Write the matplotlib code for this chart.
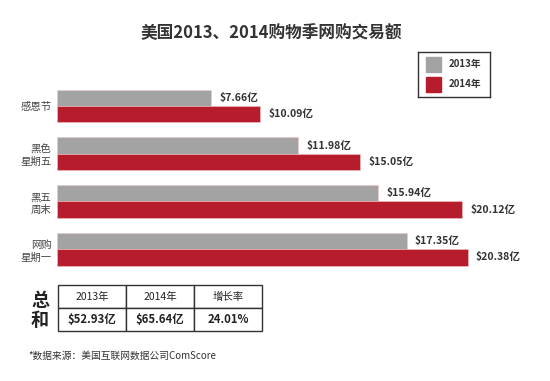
import matplotlib.pyplot as plt

plt.rcParams['font.family'] = ['Noto Sans CJK SC', 'DejaVu Sans']

# data
categories = ["感恩节", "黑色\n星期五", "黑五\n周末", "网购\n星期一"]
v2013 = [7.66, 11.98, 15.94, 17.35]
v2014 = [10.09, 15.05, 20.12, 20.38]
years = ["2013年", "2014年"]
table_head = ["2013年", "2014年", "增长率"]
table_vals = ["$52.93亿", "$65.64亿", "24.01%"]

gray = "#a3a3a3"
red = "#b71c2c"
txt = "#333333"

W, H = 550, 381
fig = plt.figure(figsize=(W / 100, H / 100), dpi=100)

# title
fig.text(271 / W, 1 - 33 / H, "美国2013、2014购物季网购交易额", ha="center", va="center",
         fontsize=12, fontweight="bold", color="#333333")

# bar axes
ax = fig.add_axes([57 / W, 1 - 280 / H, 493 / W, 200 / H])
ys = list(range(len(categories)))
h = 0.345
ax.barh([y - h / 2 for y in ys], v2013, height=h, color=gray, edgecolor="#f0c8c8", linewidth=0.4)
ax.barh([y + h / 2 for y in ys], v2014, height=h, color=red, edgecolor="#f0c8c8", linewidth=0.4)
for y, a, b in zip(ys, v2013, v2014):
    ax.text(a + 0.4, y - h / 2, "$%.2f亿" % a, va="center", ha="left", fontsize=7.6, fontweight="bold", color=txt)
    ax.text(b + 0.4, y + h / 2, "$%.2f亿" % b, va="center", ha="left", fontsize=7.6, fontweight="bold", color=txt)
ax.set_xlim(0, 493 / 20.15)
ax.set_ylim(3.645, -0.545)
ax.set_yticks(ys)
ax.set_yticklabels(categories, fontsize=7.5, color="#444444", linespacing=1.3)
ax.tick_params(axis="y", length=0, pad=4)
ax.set_xticks([])
for s in ax.spines.values():
    s.set_visible(False)

# legend
lax = fig.add_axes([418 / W, 1 - 97 / H, 72 / W, 45 / H])
lax.set_xlim(0, 72)
lax.set_ylim(45, 0)
lax.set_xticks([])
lax.set_yticks([])
for s in lax.spines.values():
    s.set_linewidth(1)
    s.set_color("#333333")
for i, (lab, c) in enumerate(zip(years, [gray, red])):
    lax.add_patch(plt.Rectangle((8, 5 + i * 20), 15, 15, color=c))
    lax.text(47, 12.5 + i * 20, lab, ha="center", va="center", fontsize=7, fontweight="bold", color=txt)

# totals table
fig.text(40 / W, 1 - 300 / H, "总", ha="center", va="center", fontsize=13, fontweight="bold", color="#222222")
fig.text(40 / W, 1 - 321 / H, "和", ha="center", va="center", fontsize=13, fontweight="bold", color="#222222")
tax = fig.add_axes([58 / W, 1 - 331 / H, 204 / W, 46 / H])
tab = tax.table(cellText=[table_head, table_vals], cellLoc="center", bbox=[0, 0, 1, 1])
tab.auto_set_font_size(False)
for (r, c), cell in tab.get_celld().items():
    cell.set_linewidth(1)
    cell.set_edgecolor("#333333")
    cell.get_text().set_fontsize(7.5 if r == 0 else 8.2)
    cell.get_text().set_fontweight("normal" if r == 0 else "bold")
    cell.get_text().set_color("#222222")
tax.axis("off")

# source
fig.text(28 / W, 1 - 356 / H, "*数据来源：美国互联网数据公司ComScore", ha="left", va="center",
         fontsize=7, color="#333333")

fig.savefig("out.png", dpi=100, facecolor="white")
